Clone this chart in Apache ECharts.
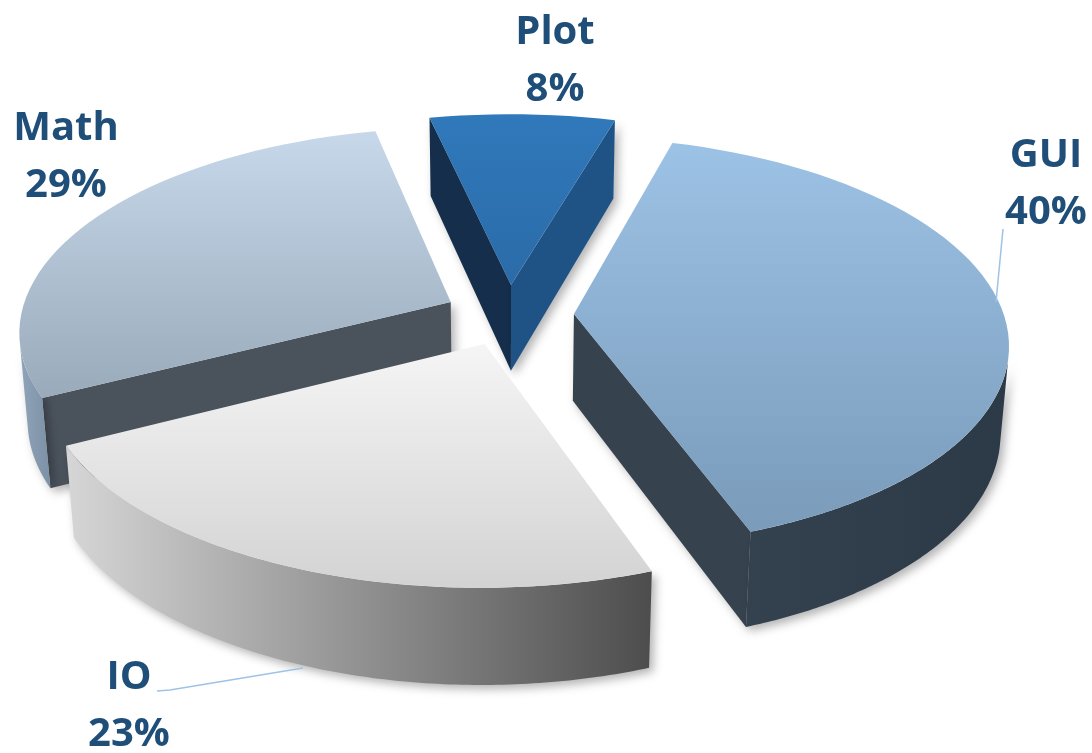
<!DOCTYPE html>
<html>
<head>
<meta charset="utf-8">
<script src="https://cdn.jsdelivr.net/npm/echarts@6/dist/echarts.min.js"></script>
<style>
  html, body { margin: 0; padding: 0; background: #ffffff; }
  #chart { width: 1092px; height: 753px; }
</style>
</head>
<body>
<div id="chart"></div>
<script>
// Share of code per module, listed clockwise starting at the back of the pie
const categories = ['Plot', 'GUI', 'IO', 'Math'];
const values = [8, 40, 23, 29];

// Colours for each wedge: top face gradient, rim gradient, the two cut faces
const sliceStyles = [
  { top: ['#3079bb', '#2b6ba8'], rim: ['#1e4d7a', '#1e4d7a'], cutStart: '#142e4b', cutEnd: '#1f5285' },
  { top: ['#9cc2e5', '#7a9bba'], rim: ['#34424f', '#2c3947'], cutStart: '#34424f', cutEnd: '#36434f' },
  { top: ['#f5f5f5', '#d3d3d3'], rim: ['#d6d6d6', '#4d4d4d'], cutStart: '#9a9a9a', cutEnd: '#8a8a8a' },
  { top: ['#c7d8ea', '#99aabb'], rim: ['#8fa3b9', '#7d91a6'], cutStart: '#4a525c', cutEnd: '#4a525c' }
];

// Where each two-line label sits and its optional leader line
const labelLayout = {
  Plot: { at: [555, 61] },
  GUI:  { at: [1046, 184], leader: [[1003, 229], [996, 302]] },
  IO:   { at: [129, 706],  leader: [[157, 691], [170, 690], [303, 668]] },
  Math: { at: [66, 157] }
};

// Camera / solid parameters for the tilted, exploded pie
const view = {
  cx: 509, cy: 315,       // screen position of the pie centre
  radius: 430,            // wedge radius
  thickness: 100,         // height of the pie
  explode: 65,            // outward shift of every wedge
  spin: 1.8 * Math.PI / 180,   // clockwise turn of the whole pie
  tilt: 28 * Math.PI / 180,
  dist: 2777              // camera distance (perspective strength)
};

const total = values.reduce((a, b) => a + b, 0);
const startAngle = -values[0] / total * Math.PI + view.spin; // first wedge near the back

function wedgeAngles(index) {
  let a = startAngle;
  for (let i = 0; i < index; i++) a += values[i] / total * Math.PI * 2;
  return [a, a + values[index] / total * Math.PI * 2];
}

const ca = Math.cos(view.tilt), sa = Math.sin(view.tilt);
const camera = [0, view.dist * sa, -view.dist * ca];

function project(p) {
  const u = p[1] * ca + p[2] * sa;
  const w = view.dist + p[2] * ca - p[1] * sa;
  const s = view.dist / w;
  return [view.cx + p[0] * s, view.cy - u * s];
}
function depth(p) { return view.dist + p[2] * ca - p[1] * sa; }

function facesCamera(p, n) {
  return (camera[0] - p[0]) * n[0] + (camera[1] - p[1]) * n[1] + (camera[2] - p[2]) * n[2] > 0;
}

function rimPoint(off, t, y) {
  return [off[0] + view.radius * Math.sin(t), y, off[1] + view.radius * Math.cos(t)];
}

function vGrad(c) {
  return new echarts.graphic.LinearGradient(0, 0, 0, 1, [
    { offset: 0, color: c[0] }, { offset: 1, color: c[1] }
  ]);
}
function hGrad(c) {
  return new echarts.graphic.LinearGradient(0, 0, 1, 0, [
    { offset: 0, color: c[0] }, { offset: 1, color: c[1] }
  ]);
}

// Order wedges back-to-front so nearer ones paint over farther ones
const drawOrder = values.map((v, i) => {
  const [a, b] = wedgeAngles(i);
  const m = (a + b) / 2;
  const r = view.explode + view.radius / 2;
  return { i, d: depth([r * Math.sin(m), 0, r * Math.cos(m)]) };
}).sort((p, q) => q.d - p.d).map(o => o.i);

const shadow = { shadowBlur: 10, shadowOffsetX: 4, shadowOffsetY: 4, shadowColor: 'rgba(0,0,0,0.30)' };

function renderWedge(params, api) {
  const idx = params.dataIndex;
  const value = api.value(1);
  const sty = sliceStyles[idx];
  const [a, b] = wedgeAngles(idx);
  const m = (a + b) / 2;
  const off = [view.explode * Math.sin(m), view.explode * Math.cos(m)];
  const H = -view.thickness;
  const rank = drawOrder.indexOf(idx) * 10;
  const steps = Math.max(8, Math.ceil(value * 1.5));
  const children = [];

  const centreTop = [off[0], 0, off[1]];
  const centreBot = [off[0], H, off[1]];
  const centreMid = [off[0], H / 2, off[1]];

  // cut face at the starting edge
  const nA = [-Math.cos(a), 0, Math.sin(a)];
  const midA = rimPoint(off, a, H / 2).map((v, k) => (v + centreMid[k]) / 2);
  if (facesCamera(midA, nA)) {
    children.push({
      type: 'polygon', z2: rank + 1,
      shape: { points: [centreTop, rimPoint(off, a, 0), rimPoint(off, a, H), centreBot].map(project) },
      style: Object.assign({ fill: sty.cutStart }, shadow)
    });
  }
  // cut face at the ending edge
  const nB = [Math.cos(b), 0, -Math.sin(b)];
  const midB = rimPoint(off, b, H / 2).map((v, k) => (v + centreMid[k]) / 2);
  if (facesCamera(midB, nB)) {
    children.push({
      type: 'polygon', z2: rank + 1,
      shape: { points: [centreTop, rimPoint(off, b, 0), rimPoint(off, b, H), centreBot].map(project) },
      style: Object.assign({ fill: sty.cutEnd }, shadow)
    });
  }

  // visible part of the curved rim
  const rimSteps = 120;
  let visStart = null, visEnd = null;
  for (let s = 0; s <= rimSteps; s++) {
    const t = a + (b - a) * s / rimSteps;
    const p = rimPoint(off, t, H / 2);
    if (facesCamera(p, [Math.sin(t), 0, Math.cos(t)])) {
      if (visStart === null) visStart = t;
      visEnd = t;
    }
  }
  if (visStart !== null && visEnd > visStart) {
    const topArc = [], botArc = [];
    for (let s = 0; s <= rimSteps; s++) {
      const t = visStart + (visEnd - visStart) * s / rimSteps;
      topArc.push(project(rimPoint(off, t, 0)));
      botArc.push(project(rimPoint(off, t, H)));
    }
    children.push({
      type: 'polygon', z2: rank + 2,
      shape: { points: topArc.concat(botArc.reverse()) },
      style: Object.assign({ fill: hGrad(sty.rim) }, shadow)
    });
  }

  // top face
  const topPts = [project(centreTop)];
  for (let s = 0; s <= steps; s++) {
    topPts.push(project(rimPoint(off, a + (b - a) * s / steps, 0)));
  }
  children.push({
    type: 'polygon', z2: rank + 5,
    shape: { points: topPts },
    style: { fill: vGrad(sty.top) }
  });

  return { type: 'group', children };
}

// Labels and leader lines
const graphics = [];
categories.forEach((name, i) => {
  const lay = labelLayout[name];
  if (lay.leader) {
    graphics.push({
      type: 'polyline', z: 10,
      shape: { points: lay.leader },
      style: { stroke: '#9dc3e6', lineWidth: 1.5, fill: null }
    });
  }
  graphics.push({
    type: 'text', z: 11,
    x: lay.at[0], y: lay.at[1],
    style: {
      text: name + '\n' + Math.round(values[i] / total * 100) + '%',
      fill: '#1f4e79',
      font: 'bold 40px "Open Sans", sans-serif',
      lineHeight: 57,
      align: 'center',
      verticalAlign: 'middle'
    }
  });
});

const chart = echarts.init(document.getElementById('chart'), null, { renderer: 'canvas' });
chart.setOption({
  backgroundColor: '#ffffff',
  animation: false,
  series: [{
    type: 'custom',
    coordinateSystem: 'none',
    renderItem: renderWedge,
    data: categories.map((c, i) => ({ name: c, value: [i, values[i]] }))
  }],
  graphic: graphics
});
</script>
</body>
</html>
